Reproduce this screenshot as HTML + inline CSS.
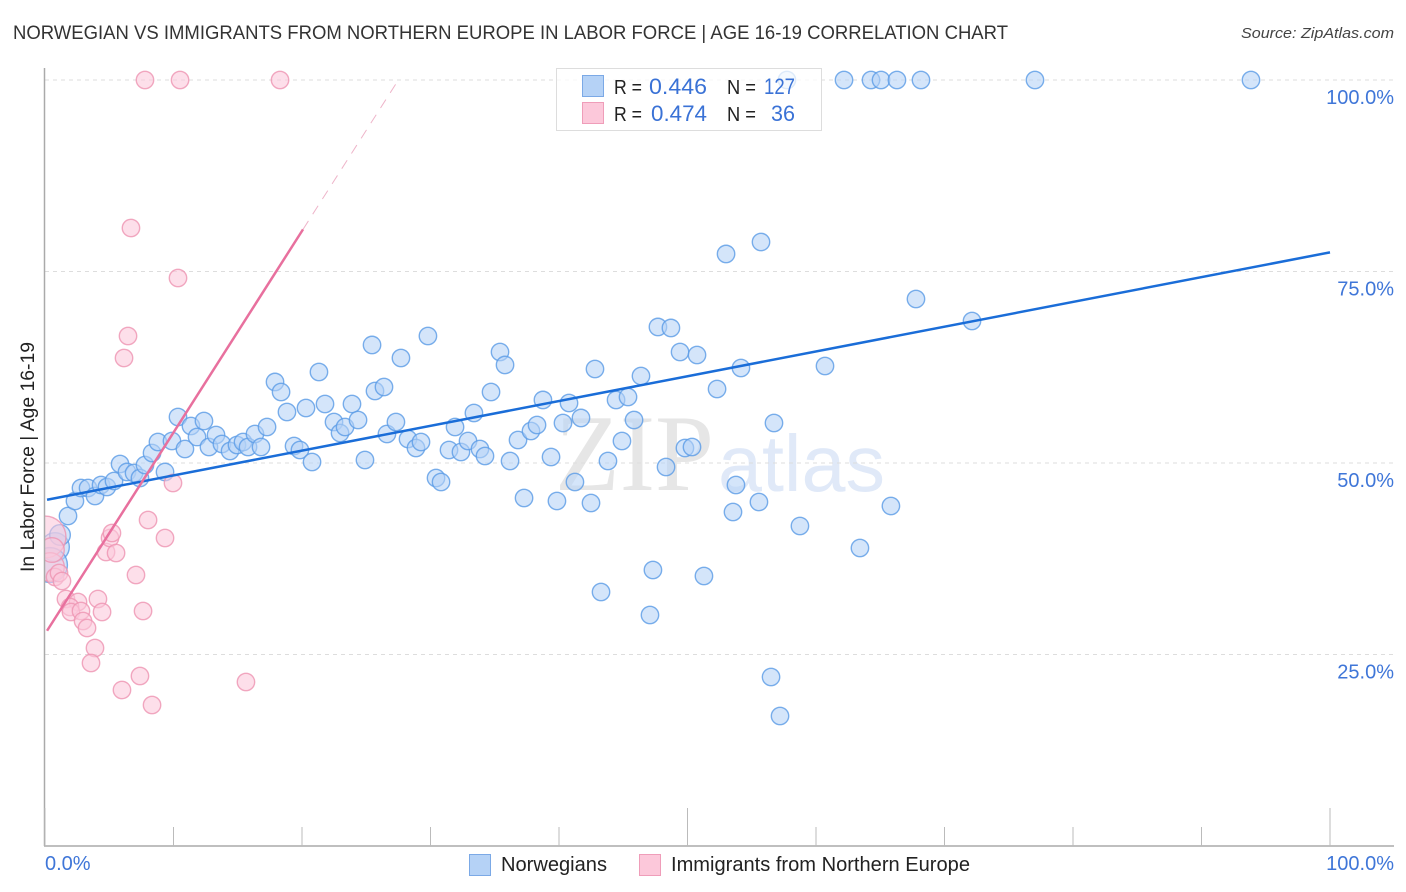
<!DOCTYPE html>
<html lang="en">
<head>
<meta charset="utf-8">
<title>Norwegian vs Immigrants from Northern Europe in Labor Force | Age 16-19 Correlation Chart</title>
<style>
html,body{margin:0;padding:0;background:#fff;}
svg{display:block;font-family:"Liberation Sans",sans-serif;}
</style>
</head>
<body>
<svg id="chart" xmlns="http://www.w3.org/2000/svg" width="1406" height="892" viewBox="0 0 1406 892">
  <defs>
    <clipPath id="plot-clip"><rect x="45" y="60" width="1349" height="786"/></clipPath>
  </defs>
  <rect x="0" y="0" width="1406" height="892" fill="#fff"/>
  <text x="13" y="39" font-size="19" fill="#333" textLength="995" lengthAdjust="spacingAndGlyphs">NORWEGIAN VS IMMIGRANTS FROM NORTHERN EUROPE IN LABOR FORCE | AGE 16-19 CORRELATION CHART</text>
  <text x="1394" y="38" font-size="15" font-style="italic" fill="#444" text-anchor="end" textLength="153" lengthAdjust="spacingAndGlyphs">Source: ZipAtlas.com</text>
  <g>
    <text x="555" y="490" font-family="'Liberation Serif',serif" font-size="109" fill="#e6e6e6" textLength="159" lengthAdjust="spacingAndGlyphs">ZIP</text>
    <text x="718" y="491" font-size="80" fill="#e0e9f8" textLength="167" lengthAdjust="spacingAndGlyphs">atlas</text>
  </g>
  <g id="grid"></g>
  <g id="points" clip-path="url(#plot-clip)"></g>
  <rect x="0" y="480" width="44.5" height="140" fill="#fff"/>
  <text transform="translate(34,572) rotate(-90)" font-size="19" fill="#222" textLength="230" lengthAdjust="spacingAndGlyphs">In Labor Force | Age 16-19</text>
  <g id="axes"></g>
  <g id="trends"></g>
  <g id="labels"></g>
  <g>
    <rect x="556.5" y="68.5" width="265" height="62" fill="#fff" fill-opacity="0.75" stroke="#ddd" stroke-width="1"/>
    <rect x="582.5" y="75.5" width="21" height="21" fill="#b5d2f6" stroke="#7ba9e6"/>
    <rect x="582.5" y="102.5" width="21" height="21" fill="#fcc8da" stroke="#ef9db9"/>
    <g font-size="20" fill="#222">
      <text x="614" y="94" textLength="28" lengthAdjust="spacingAndGlyphs">R =</text>
      <text x="727" y="94" textLength="29" lengthAdjust="spacingAndGlyphs">N =</text>
      <text x="614" y="121" textLength="28" lengthAdjust="spacingAndGlyphs">R =</text>
      <text x="727" y="121" textLength="29" lengthAdjust="spacingAndGlyphs">N =</text>
    </g>
    <g font-size="22" fill="#3a72d6">
      <text x="649" y="94" textLength="58" lengthAdjust="spacingAndGlyphs">0.446</text>
      <text x="764" y="94" textLength="31" lengthAdjust="spacingAndGlyphs">127</text>
      <text x="651" y="121" textLength="56" lengthAdjust="spacingAndGlyphs">0.474</text>
      <text x="771" y="121" textLength="24" lengthAdjust="spacingAndGlyphs">36</text>
    </g>
  </g>
  <g>
    <rect x="469.5" y="854.5" width="21" height="21" fill="#b5d2f6" stroke="#7ba9e6"/>
    <text x="501" y="871" font-size="20" fill="#222" textLength="106" lengthAdjust="spacingAndGlyphs">Norwegians</text>
    <rect x="639.5" y="854.5" width="21" height="21" fill="#fcc8da" stroke="#ef9db9"/>
    <text x="671" y="871" font-size="20" fill="#222" textLength="299" lengthAdjust="spacingAndGlyphs">Immigrants from Northern Europe</text>
  </g>
</svg>
<script>
const xTickValues = [0, 10, 20, 30, 40, 50, 60, 70, 80, 90, 100];
const xMajorTicks = [0, 50, 100];
const yGridValues = [100, 75, 50, 25];
const yTickLabels = ["100.0%", "75.0%", "50.0%", "25.0%"];
const xTickLabels = ["0.0%", "100.0%"];

const norwegiansX = [0.78,0.39,1.17,1.79,2.33,2.80,3.35,3.89,4.36,4.82,5.37,5.84,6.38,6.93,7.39,7.78,8.33,8.79,9.34,9.88,10.35,10.89,11.36,11.83,12.37,12.76,13.31,13.77,14.40,14.94,15.41,15.80,16.34,16.81,17.28,17.90,18.37,18.83,19.38,19.84,20.31,20.78,21.32,21.79,22.49,22.96,23.35,23.89,24.36,24.90,25.45,25.68,26.38,26.61,27.31,27.70,28.25,28.87,29.26,29.80,30.43,30.82,31.44,31.91,32.37,32.92,33.38,33.85,34.24,34.71,35.41,35.80,36.19,36.81,37.28,37.82,38.29,38.75,39.38,39.84,40.31,40.78,41.24,41.71,42.49,42.80,43.27,43.81,44.44,44.90,45.37,45.84,46.38,47.08,47.31,47.70,48.33,48.71,49.42,49.80,50.35,50.74,51.28,52.30,53.00,53.54,53.77,54.16,55.56,55.72,56.50,56.73,57.20,58.75,60.70,63.42,65.83,67.78,72.14,57.74,62.18,64.28,65.06,66.30,68.17,77.04,93.85];
const norwegiansY = [39.03,36.68,40.60,43.08,45.04,46.74,46.74,45.69,47.13,46.87,47.65,49.87,48.83,48.69,48.04,49.74,51.31,52.74,48.83,52.87,56.01,51.83,54.83,53.39,55.48,52.09,53.66,52.48,51.57,52.35,52.74,52.09,53.79,52.09,54.70,60.58,59.27,56.66,52.22,51.70,57.18,50.13,61.88,57.70,55.35,53.92,54.70,57.70,55.61,50.39,65.41,59.40,59.92,53.79,55.35,63.71,53.13,51.96,52.74,66.58,48.04,47.52,51.70,54.70,51.44,52.87,56.53,51.83,50.91,59.27,64.49,62.80,50.26,53.00,45.43,54.18,54.96,58.23,50.78,45.04,55.22,57.83,47.52,55.88,44.78,62.27,33.16,50.26,58.23,52.87,58.62,55.61,61.36,30.16,36.03,67.76,49.48,67.63,64.49,51.96,52.09,64.10,35.25,59.66,77.29,43.60,47.13,62.40,44.91,78.85,22.06,55.22,16.97,41.78,62.66,38.90,44.39,71.41,68.54,100,100,100,100,100,100,100,100];
const norwegiansWeight = [2.7,4,1.4];

const immigrantsX = [0,0.39,0.54,0.78,1.09,1.32,1.63,2.57,1.95,2.02,2.80,2.96,3.27,3.89,3.58,4.12,4.44,4.75,5.06,5.21,5.53,5.99,6.15,6.46,6.69,7.08,7.39,7.63,7.78,8.02,8.33,9.34,9.96,10.35,10.51,15.64,18.29];
const immigrantsY = [40.34,36.42,38.64,35.12,35.64,34.60,32.25,31.85,31.20,30.55,30.68,29.37,28.46,25.85,23.89,32.25,30.55,38.38,40.21,40.86,38.25,20.37,63.71,66.58,80.68,35.38,22.19,30.68,100,42.56,18.41,40.21,47.39,74.15,100,21.41,100];
const immigrantsWeight = [5.8,2.7,2];

const norwegiansTrendX = [0.16, 100];
const norwegiansTrendY = [45.2, 77.5];
const immigrantsTrendX = [0.16, 20.08];
const immigrantsTrendY = [28.1, 80.5];
const immigrantsDashX = [20.08, 27.5];
const immigrantsDashY = [80.5, 100];

const xScale = v => 45 + v * 12.85;
const yScale = v => 846 - v * 7.66;
const NS = "http://www.w3.org/2000/svg";
const BASE_R = 8.7;

function make(tag, parent, attrs, text) {
  const el = document.createElementNS(NS, tag);
  for (const k in attrs) el.setAttribute(k, attrs[k]);
  if (text !== undefined) el.textContent = text;
  parent.appendChild(el);
  return el;
}

const gridG = document.getElementById("grid");
yGridValues.forEach(v => {
  const el = make("line", gridG, {x1: 45, x2: 1394, y1: yScale(v), y2: yScale(v), stroke: "#ddd", "stroke-width": 1, "stroke-dasharray": "4 4"});
  
  
});

const axesG = document.getElementById("axes");
const yAxisLine = make("line", axesG, {x1: 44.5, x2: 44.5, y1: 68, y2: 846, stroke: "#aaa", "stroke-width": 1.5});


const xAxisLine = make("line", axesG, {x1: 44, x2: 1394, y1: 846, y2: 846, stroke: "#aaa", "stroke-width": 1.5});


xTickValues.forEach(v => {
  const top = xMajorTicks.includes(v) ? 808 : 827;
  const el = make("line", axesG, {x1: xScale(v), x2: xScale(v), y1: top, y2: 846, stroke: "#bbb", "stroke-width": 1});
  
  
});

const pointsG = document.getElementById("points");
function drawSeries(xs, ys, weights, fill, stroke, name) {
  xs.forEach((x, i) => {
    const w = weights[i] || 1;
    const el = make("circle", pointsG, {cx: xScale(x), cy: yScale(ys[i]), r: BASE_R * Math.sqrt(w), fill: fill, "fill-opacity": 0.58, stroke: stroke, "stroke-opacity": 0.8, "stroke-width": 1.4});
    
    
  });
}
drawSeries(norwegiansX, norwegiansY, norwegiansWeight, "#b5d2f6", "#5a9be6", "norwegians-point");
drawSeries(immigrantsX, immigrantsY, immigrantsWeight, "#fcc8da", "#ee94b2", "immigrants-point");

const trendsG = document.getElementById("trends");
const blueTrend = make("line", trendsG, {x1: xScale(norwegiansTrendX[0]), y1: yScale(norwegiansTrendY[0]), x2: xScale(norwegiansTrendX[1]), y2: yScale(norwegiansTrendY[1]), stroke: "#1a6dd8", "stroke-width": 2.5});


const pinkTrend = make("line", trendsG, {x1: xScale(immigrantsTrendX[0]), y1: yScale(immigrantsTrendY[0]), x2: xScale(immigrantsTrendX[1]), y2: yScale(immigrantsTrendY[1]), stroke: "#e8709e", "stroke-width": 2.5});


const pinkDash = make("line", trendsG, {x1: xScale(immigrantsDashX[0]), y1: yScale(immigrantsDashY[0]), x2: xScale(immigrantsDashX[1]), y2: yScale(immigrantsDashY[1]), stroke: "#eeb4c9", "stroke-width": 1, "stroke-dasharray": "10 8"});



const labelsG = document.getElementById("labels");
yGridValues.forEach((v, i) => {
  const el = make("text", labelsG, {x: 1394, y: yScale(v) + 24, "text-anchor": "end", "font-size": 20, fill: "#3f76d8"}, yTickLabels[i]);
  
  
});
const xLeft = make("text", labelsG, {x: 45, y: 870, "font-size": 20, fill: "#3f76d8"}, xTickLabels[0]);


const xRight = make("text", labelsG, {x: 1394, y: 870, "text-anchor": "end", "font-size": 20, fill: "#3f76d8"}, xTickLabels[1]);


</script>
</body>
</html>
